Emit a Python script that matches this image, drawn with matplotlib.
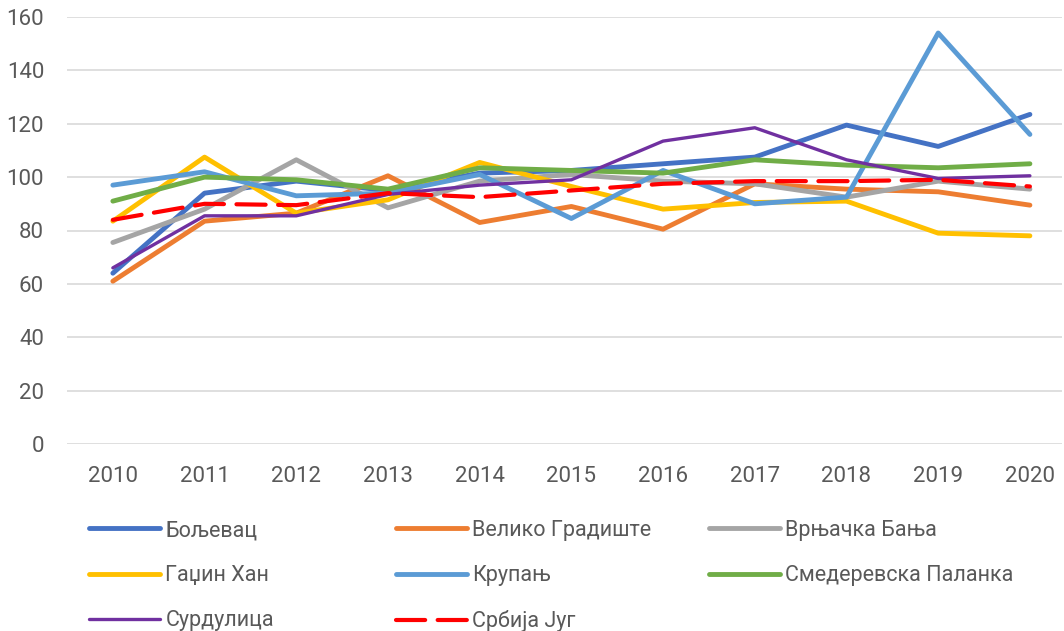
import matplotlib
matplotlib.use("Agg")
import matplotlib.pyplot as plt

plt.rcParams['font.family'] = ['Roboto', 'DejaVu Sans']

years = [2010, 2011, 2012, 2013, 2014, 2015, 2016, 2017, 2018, 2019, 2020]

boljevac     = [64, 94, 98.5, 95, 101.5, 102.5, 105, 107.5, 119.5, 111.5, 123.5]
veliko_grad  = [61, 83.5, 86.5, 100.5, 83, 89, 80.5, 97.5, 95.5, 94.5, 89.5]
vrnjacka     = [75.5, 88, 106.5, 88.5, 98.5, 101, 98.5, 97.5, 92.5, 98.5, 95.5]
gadzin_han   = [83.5, 107.5, 86.5, 91.5, 105.5, 96.5, 88, 90.5, 91, 79, 78]
krupanj      = [97, 102, 93, 94, 101, 84.5, 102.5, 90, 92.5, 154, 116]
smed_palanka = [91, 100, 99, 95.5, 103.5, 102.5, 101.5, 106.5, 104.5, 103.5, 105]
surdulica    = [66, 85.5, 85.5, 93.5, 97, 99, 113.5, 118.5, 106.5, 99.5, 100.5]
srbija_jug   = [84, 90, 89.5, 94, 92.5, 95, 97.5, 98.5, 98.5, 99, 96.5]

names = ["Бољевац", "Велико Градиште", "Врњачка Бања", "Гаџин Хан", "Крупањ",
         "Смедеревска Паланка", "Сурдулица", "Србија Југ"]
series = [boljevac, veliko_grad, vrnjacka, gadzin_han, krupanj,
          smed_palanka, surdulica, srbija_jug]
colors = ["#4472C4", "#ED7D31", "#A5A5A5", "#FFC000", "#5B9BD5",
          "#70AD47", "#7030A0", "#FF0000"]

fig = plt.figure(figsize=(10.64, 6.31), dpi=100)
ax = fig.add_axes([67 / 1064, 1 - 444 / 631, 995 / 1064, 427 / 631])

xs = list(range(len(years)))
handles = []
for i, (name, vals, c) in enumerate(zip(names, series, colors)):
    if name == "Србија Југ":
        ln, = ax.plot(xs, vals, color=c, lw=3, dashes=(7, 3), dash_capstyle='round',
                      label=name, zorder=3 + i)
    elif name == "Сурдулица":
        ln, = ax.plot(xs, vals, color=c, lw=2.4, solid_capstyle='round', label=name, zorder=3 + i)
    else:
        ln, = ax.plot(xs, vals, color=c, lw=3.5, solid_capstyle='round', label=name, zorder=3 + i)
    handles.append(ln)

ax.set_xlim(-0.5, 10.35)
ax.set_ylim(0, 160)
ax.set_yticks(range(0, 161, 20))
ax.set_xticks(xs)
ax.set_xticklabels([str(y) for y in years])
ax.grid(axis='y', color='#D9D9D9', lw=1.2)
ax.set_axisbelow(True)
for s in ax.spines.values():
    s.set_visible(False)
ax.tick_params(axis='both', length=0, labelsize=16, colors='#595959')
ax.tick_params(axis='y', pad=16.5)
ax.tick_params(axis='x', pad=16)

# legend: three columns placed like the original
col_x = [89, 396, 709]
for k in range(3):
    hs = handles[k::3]
    fig.legend(handles=hs, labels=[h.get_label() for h in hs],
               loc='upper left', bbox_to_anchor=(col_x[k] / 1064, 1 - 520 / 631),
               frameon=False, fontsize=15.5, handlelength=3.3, handletextpad=0.25,
               labelspacing=1.12, borderpad=0, borderaxespad=0, labelcolor='#595959')

fig.savefig("out.png", dpi=100)
